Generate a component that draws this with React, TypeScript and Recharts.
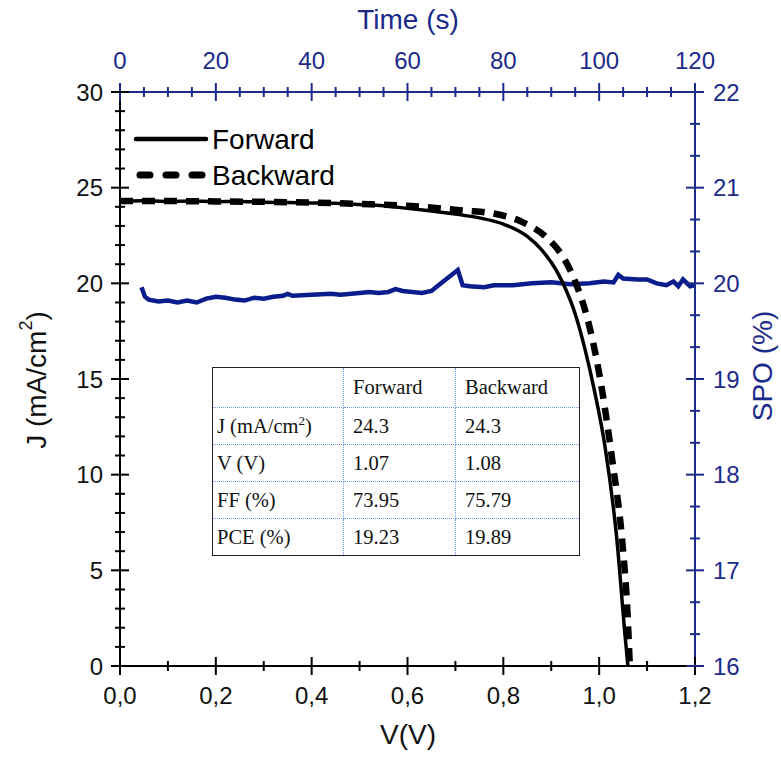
import { ComposedChart, Line, XAxis, YAxis } from "recharts";

// J-V curves (V in volts, J in mA/cm2)
const forwardV = [0, 0.05, 0.1, 0.15, 0.2, 0.25, 0.3, 0.35, 0.4, 0.45, 0.5, 0.55, 0.6, 0.65, 0.7, 0.75, 0.8, 0.85, 0.88, 0.91, 0.93, 0.95, 0.97, 0.99, 1.012, 1.037, 1.054, 1.06];
const forwardJ = [24.3, 24.32, 24.28, 24.3, 24.27, 24.28, 24.24, 24.22, 24.2, 24.18, 24.12, 24.05, 23.92, 23.78, 23.62, 23.42, 23.1, 22.45, 21.75, 20.7, 19.7, 18.4, 16.6, 14.4, 11.5, 6.6, 1.6, 0];
const backwardV = [0, 0.1, 0.2, 0.3, 0.4, 0.5, 0.6, 0.72, 0.78, 0.84, 0.89, 0.929, 0.953, 0.975, 1.0, 1.026, 1.05, 1.058, 1.064];
const backwardJ = [24.3, 24.3, 24.28, 24.26, 24.22, 24.15, 24.05, 23.8, 23.65, 23.2, 22.4, 21.2, 19.9, 18.2, 15.3, 11.0, 6.0, 3.3, 0];

// stabilized power output vs time
const spoTime = [4.5, 5.2, 6, 8, 10, 12, 14, 16, 18, 20, 22, 24, 26, 28, 30, 32, 34, 35, 36, 40, 44, 46, 50, 52, 54, 56, 57.5, 59, 61, 63, 65, 67, 70.5, 71.5, 73, 76, 78, 82, 86, 90, 94, 98, 101, 103, 104, 105, 108, 110, 112, 114, 115.5, 116.5, 117.5, 119, 120];
const spoValue = [19.96, 19.86, 19.83, 19.81, 19.82, 19.8, 19.82, 19.8, 19.84, 19.86, 19.85, 19.83, 19.82, 19.85, 19.84, 19.86, 19.87, 19.89, 19.87, 19.88, 19.89, 19.88, 19.9, 19.91, 19.9, 19.91, 19.94, 19.92, 19.91, 19.9, 19.92, 20.0, 20.14, 19.98, 19.97, 19.96, 19.98, 19.98, 20.0, 20.01, 19.99, 20.0, 20.02, 20.01, 20.09, 20.05, 20.04, 20.04, 20.0, 19.98, 20.02, 19.97, 20.04, 19.97, 19.98];

const vTicks = [0, 0.1, 0.2, 0.3, 0.4, 0.5, 0.6, 0.7, 0.8, 0.9, 1.0, 1.1, 1.2];
const vMajor = [0, 0.2, 0.4, 0.6, 0.8, 1.0, 1.2];
const jTicks = [0, 1, 2, 3, 4, 5, 6, 7, 8, 9, 10, 11, 12, 13, 14, 15, 16, 17, 18, 19, 20, 21, 22, 23, 24, 25, 26, 27, 28, 29, 30];
const jMajor = [0, 5, 10, 15, 20, 25, 30];
const tTicks = [0, 5, 10, 15, 20, 25, 30, 35, 40, 45, 50, 55, 60, 65, 70, 75, 80, 85, 90, 95, 100, 105, 110, 115, 120];
const tMajor = [0, 20, 40, 60, 80, 100, 120];
const sTicks = [16, 16.333, 16.667, 17, 17.333, 17.667, 18, 18.333, 18.667, 19, 19.333, 19.667, 20, 20.333, 20.667, 21, 21.333, 21.667, 22];
const sMajor = [16, 17, 18, 19, 20, 21, 22];

const tableHead = ["", "Forward", "Backward"];
const tableRows = [
  ["J (mA/cm2)", "24.3", "24.3"],
  ["V (V)", "1.07", "1.08"],
  ["FF (%)", "73.95", "75.79"],
  ["PCE (%)", "19.23", "19.89"],
];

const forwardData = forwardV.map((v, i) => ({ v, j: forwardJ[i] }));
const backwardData = backwardV.map((v, i) => ({ v, j: backwardJ[i] }));
const spoData = spoTime.map((t, i) => ({ t, s: spoValue[i] }));

const W = 781;
const H = 757;
const PL = 120;
const PR = 695;
const PT = 92;
const PB = 666;
const BLUE = "#1c2a8a";
const LINE_BLUE = "#0b1c8c";
const FONT = "'Liberation Sans', Arial, sans-serif";

const isMajor = (list: number[], v: number) => list.some((m) => Math.abs(m - v) < 1e-3);

const LeftTick = (p: any) => {
  const y = p.payload.coordinate;
  const major = isMajor(jMajor, p.payload.value);
  const d = major ? 9 : 5;
  return (
    <g>
      <line x1={PL - d} x2={PL + d} y1={y} y2={y} stroke="#000" strokeWidth={2} />
      {major && (
        <text x={103} y={y} textAnchor="end" dominantBaseline="central" fontSize={24} fontFamily={FONT} fill="#111">
          {p.payload.value}
        </text>
      )}
    </g>
  );
};

const RightTick = (p: any) => {
  const y = p.payload.coordinate;
  const major = isMajor(sMajor, p.payload.value);
  const d = major ? 9 : 5;
  return (
    <g>
      <line x1={PR - d} x2={PR + d} y1={y} y2={y} stroke={BLUE} strokeWidth={2} />
      {major && (
        <text x={713} y={y} textAnchor="start" dominantBaseline="central" fontSize={24} fontFamily={FONT} fill={BLUE}>
          {Math.round(p.payload.value)}
        </text>
      )}
    </g>
  );
};

const BottomTick = (p: any) => {
  const x = p.payload.coordinate;
  const major = isMajor(vMajor, p.payload.value);
  const d = major ? 9 : 5;
  return (
    <g>
      <line x1={x} x2={x} y1={PB - d} y2={PB + d} stroke="#000" strokeWidth={2} />
      {major && (
        <text x={x} y={695} textAnchor="middle" dominantBaseline="central" fontSize={24} fontFamily={FONT} fill="#111">
          {p.payload.value.toFixed(1).replace(".", ",")}
        </text>
      )}
    </g>
  );
};

const TopTick = (p: any) => {
  const x = p.payload.coordinate;
  const major = isMajor(tMajor, p.payload.value);
  const d = major ? 9 : 5;
  return (
    <g>
      <line x1={x} x2={x} y1={PT - d} y2={PT + d} stroke={BLUE} strokeWidth={2} />
      {major && (
        <text x={x} y={60} textAnchor="middle" dominantBaseline="central" fontSize={24} fontFamily={FONT} fill={BLUE}>
          {p.payload.value}
        </text>
      )}
    </g>
  );
};

const cellBase: React.CSSProperties = {
  borderRight: "1px dotted #6a9be0",
  borderBottom: "1px dotted #6a9be0",
  padding: "0 0 0 9px",
  textAlign: "left",
  fontWeight: "normal",
  whiteSpace: "nowrap",
};

function ParamTable() {
  const widths = [126, 102, 114];
  return (
    <table
      style={{
        position: "absolute",
        left: 212,
        top: 367,
        width: 342,
        height: 189,
        borderCollapse: "collapse",
        border: "1.5px solid #222",
        background: "#fff",
        fontFamily: "'Liberation Serif', 'Times New Roman', serif",
        fontSize: 20.5,
        color: "#111",
        tableLayout: "fixed",
      }}
    >
      <tbody>
        <tr style={{ height: 40 }}>
          {tableHead.map((h, i) => (
            <th
              key={i}
              style={{ ...cellBase, width: widths[i], paddingLeft: i === 0 ? 4 : 9, borderRight: i === 2 ? "none" : cellBase.borderRight }}
            >
              {h}
            </th>
          ))}
        </tr>
        {tableRows.map((row, r) => (
          <tr key={r} style={{ height: 37 }}>
            {row.map((c, i) => (
              <td
                key={i}
                style={{
                  ...cellBase,
                  paddingLeft: i === 0 ? 4 : 9,
                  borderRight: i === 2 ? "none" : cellBase.borderRight,
                  borderBottom: r === tableRows.length - 1 ? "none" : cellBase.borderBottom,
                }}
              >
                {c === "J (mA/cm2)" ? (
                  <>
                    J (mA/cm<sup style={{ fontSize: 13, lineHeight: 0 }}>2</sup>)
                  </>
                ) : (
                  c
                )}
              </td>
            ))}
          </tr>
        ))}
      </tbody>
    </table>
  );
}

export default function App() {
  return (
    <div style={{ position: "absolute", left: 0, top: 0, width: W, height: H, background: "#fff" }}>
      <ComposedChart width={W} height={H} margin={{ top: 0, right: 0, bottom: 0, left: 0 }}>
        <XAxis
          xAxisId="v"
          dataKey="v"
          type="number"
          orientation="bottom"
          domain={[0, 1.2]}
          ticks={vTicks}
          interval={0}
          height={H - PB}
          axisLine={{ stroke: "#000", strokeWidth: 2 }}
          tickLine={false}
          tick={<BottomTick />}
          allowDataOverflow
        />
        <XAxis
          xAxisId="t"
          dataKey="t"
          type="number"
          orientation="top"
          domain={[0, 120]}
          ticks={tTicks}
          interval={0}
          height={PT}
          axisLine={{ stroke: BLUE, strokeWidth: 2 }}
          tickLine={false}
          tick={<TopTick />}
          allowDataOverflow
        />
        <YAxis
          yAxisId="j"
          type="number"
          orientation="left"
          domain={[0, 30]}
          ticks={jTicks}
          interval={0}
          width={PL}
          axisLine={{ stroke: "#000", strokeWidth: 2 }}
          tickLine={false}
          tick={<LeftTick />}
          allowDataOverflow
        />
        <YAxis
          yAxisId="s"
          type="number"
          orientation="right"
          domain={[16, 22]}
          ticks={sTicks}
          interval={0}
          width={W - PR}
          axisLine={{ stroke: BLUE, strokeWidth: 2 }}
          tickLine={false}
          tick={<RightTick />}
          allowDataOverflow
        />
        <Line
          xAxisId="t"
          yAxisId="s"
          data={spoData}
          dataKey="s"
          stroke={LINE_BLUE}
          strokeWidth={4.5}
          dot={false}
          isAnimationActive={false}
        />
        <Line
          xAxisId="v"
          yAxisId="j"
          data={backwardData}
          dataKey="j"
          stroke="#000"
          strokeWidth={6.5}
          strokeDasharray="13 9"
          dot={false}
          type="monotone"
          isAnimationActive={false}
        />
        <Line
          xAxisId="v"
          yAxisId="j"
          data={forwardData}
          dataKey="j"
          stroke="#000"
          strokeWidth={3.5}
          dot={false}
          type="monotone"
          isAnimationActive={false}
        />
      </ComposedChart>
      <svg width={W} height={H} style={{ position: "absolute", left: 0, top: 0, pointerEvents: "none" }}>
        <line x1={136} x2={206} y1={139} y2={139} stroke="#000" strokeWidth={4.5} strokeLinecap="round" />
        <text x={212} y={139} dominantBaseline="central" fontSize={28} fontFamily={FONT} fill="#000">Forward</text>
        <line x1={140} x2={206} y1={175} y2={175} stroke="#000" strokeWidth={7} strokeDasharray="10 16" strokeLinecap="round" />
        <text x={212} y={175} dominantBaseline="central" fontSize={28} fontFamily={FONT} fill="#000">Backward</text>
        <text x={408} y={19} textAnchor="middle" dominantBaseline="central" fontSize={28} fontFamily={FONT} fill={BLUE}>
          Time (s)
        </text>
        <text x={408} y={734} textAnchor="middle" dominantBaseline="central" fontSize={28} fontFamily={FONT} fill="#111">
          V(V)
        </text>
        <text
          transform="translate(36,380) rotate(-90)"
          textAnchor="middle"
          dominantBaseline="central"
          fontSize={28}
          fontFamily={FONT}
          fill="#111"
        >
          <tspan>J (mA/cm</tspan>
          <tspan fontSize={18} dy={-10}>2</tspan>
          <tspan dy={10}>)</tspan>
        </text>
        <text
          transform="translate(762,366) rotate(-90)"
          textAnchor="middle"
          dominantBaseline="central"
          fontSize={28}
          fontFamily={FONT}
          fill={BLUE}
        >
          SPO (%)
        </text>
      </svg>
      <ParamTable />
    </div>
  );
}
